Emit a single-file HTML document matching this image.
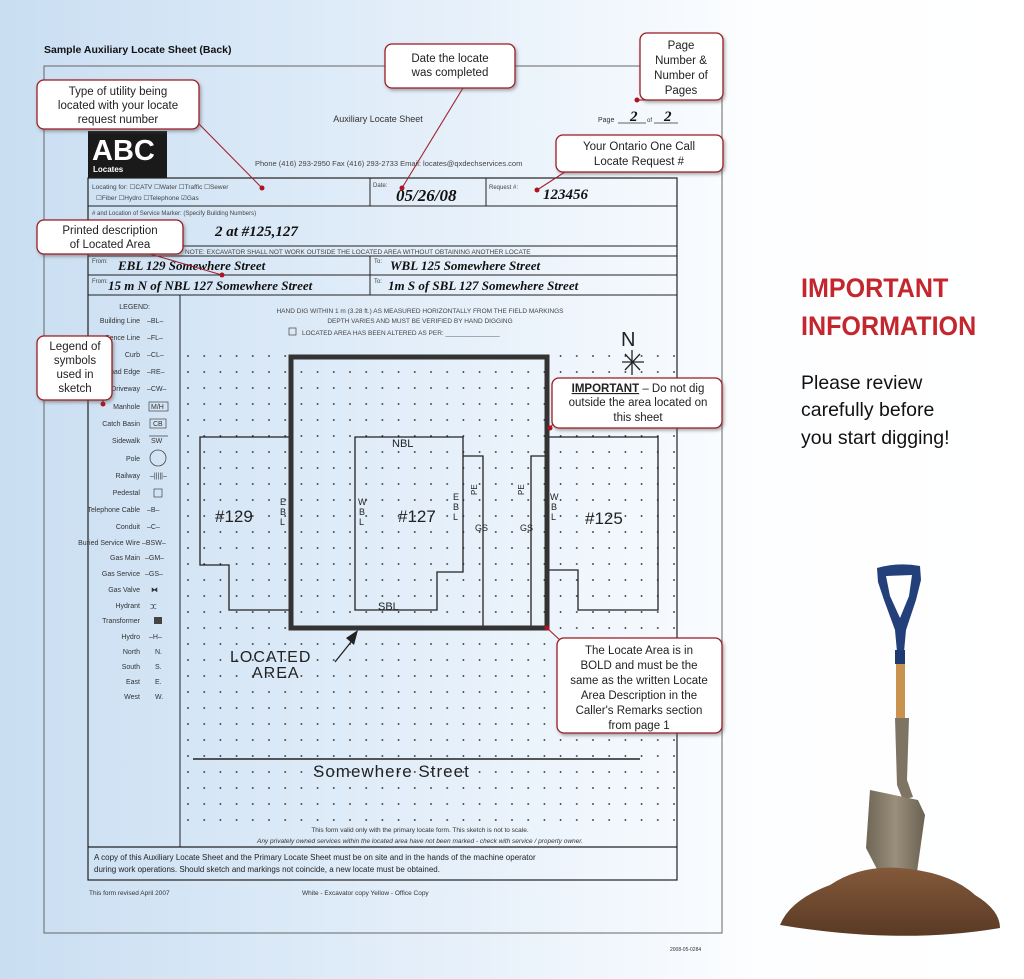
<!DOCTYPE html>
<html><head><meta charset="utf-8"><style>
body{margin:0;width:1024px;height:979px;overflow:hidden;background:linear-gradient(90deg,#c9def2 0%,#e6f0fa 45%,#fdfeff 75%,#fff 100%);font-family:"Liberation Sans",sans-serif;}
svg{position:absolute;left:0;top:0}
.hw{font-family:"Liberation Serif",serif;font-style:italic;font-weight:bold;fill:#111}
.sk{font-family:"Liberation Sans",sans-serif;fill:#222}
.cl{fill:#fff;stroke:#9b1b22;stroke-width:1.3}
.ct{font-size:11.5px;fill:#222;text-anchor:middle}
.lg{font-size:7px;fill:#333;text-anchor:end}
.ls{font-size:7px;fill:#333}
</style></head><body>
<svg width="1024" height="979" viewBox="0 0 1024 979">
<defs>
<pattern id="dots" x="187" y="355" width="16.2" height="16" patternUnits="userSpaceOnUse"><circle cx="1" cy="1" r="0.9" fill="#222"/></pattern>
<filter id="sh" x="-10%" y="-10%" width="130%" height="140%"><feDropShadow dx="1.5" dy="2" stdDeviation="1.5" flood-color="#555" flood-opacity="0.5"/></filter>
<linearGradient id="dirt" x1="0" y1="0" x2="0" y2="1"><stop offset="0" stop-color="#83593a"/><stop offset="1" stop-color="#5a3a24"/></linearGradient>
<linearGradient id="blade" x1="0" y1="0" x2="1" y2="0"><stop offset="0" stop-color="#6f6656"/><stop offset=".5" stop-color="#9a8f7b"/><stop offset="1" stop-color="#6a6152"/></linearGradient>
</defs>
<text x="44" y="53" font-size="10.5" font-weight="bold" fill="#111">Sample Auxiliary Locate Sheet (Back)</text>
<rect x="44" y="66" width="678" height="867" fill="none" stroke="#666" stroke-width="1"/>
<text x="378" y="122" font-size="9" fill="#333" text-anchor="middle">Auxiliary Locate Sheet</text>
<text x="598" y="122" font-size="7" fill="#333">Page</text>
<line x1="618" y1="123" x2="646" y2="123" stroke="#333" stroke-width="0.7"/><line x1="654" y1="123" x2="678" y2="123" stroke="#333" stroke-width="0.7"/>
<text x="630" y="121" class="hw" font-size="15">2</text><text x="647" y="122" font-size="6" fill="#333">of</text><text x="664" y="121" class="hw" font-size="15">2</text>
<rect x="88" y="131" width="79" height="47" fill="#1a1a1a"/>
<text x="92" y="160" font-size="29" font-weight="bold" fill="#fff">ABC</text>
<text x="93" y="172" font-size="8" font-weight="bold" fill="#fff">Locates</text>
<text x="255" y="166" font-size="7.5" fill="#444">Phone (416) 293-2950  Fax (416) 293-2733  Email: locates@qxdechservices.com</text>
<rect x="88" y="178" width="589" height="702" fill="none" stroke="#222" stroke-width="1.2"/>
<line x1="88" y1="206" x2="677" y2="206" stroke="#222"/>
<line x1="370" y1="178" x2="370" y2="206" stroke="#222"/><line x1="486" y1="178" x2="486" y2="206" stroke="#222"/>
<text x="92" y="189" font-size="6.5" fill="#444">Locating for: ☐CATV    ☐Water       ☐Traffic   ☐Sewer</text>
<text x="96" y="200" font-size="6.5" fill="#444">☐Fiber   ☐Hydro  ☐Telephone ☑Gas</text>
<text x="373" y="187" font-size="6" fill="#444">Date:</text><text x="396" y="201" class="hw" font-size="17">05/26/08</text>
<text x="489" y="189" font-size="6" fill="#444">Request #:</text><text x="543" y="199" class="hw" font-size="15">123456</text>
<text x="92" y="215" font-size="6" fill="#444"># and Location of Service Marker: (Specify Building Numbers)</text>
<text x="215" y="236" class="hw" font-size="15">2 at #125,127</text>
<line x1="88" y1="246" x2="677" y2="246" stroke="#222"/><line x1="88" y1="256" x2="677" y2="256" stroke="#222"/>
<text x="185" y="254" font-size="6.5" fill="#444">NOTE: EXCAVATOR SHALL NOT WORK OUTSIDE THE LOCATED AREA WITHOUT OBTAINING ANOTHER LOCATE</text>
<line x1="88" y1="275" x2="677" y2="275" stroke="#222"/><line x1="88" y1="295" x2="677" y2="295" stroke="#222"/>
<line x1="370" y1="256" x2="370" y2="295" stroke="#222"/>
<text x="92" y="263" font-size="6" fill="#444">From:</text><text x="118" y="270" class="hw" font-size="13">EBL 129 Somewhere Street</text>
<text x="374" y="263" font-size="6" fill="#444">To:</text><text x="390" y="270" class="hw" font-size="13">WBL 125 Somewhere Street</text>
<text x="92" y="283" font-size="6" fill="#444">From:</text><text x="108" y="290" class="hw" font-size="13">15 m N of NBL 127 Somewhere Street</text>
<text x="374" y="283" font-size="6" fill="#444">To:</text><text x="388" y="290" class="hw" font-size="13">1m S of SBL 127 Somewhere Street</text>
<line x1="180" y1="295" x2="180" y2="847" stroke="#222"/>
<line x1="88" y1="847" x2="677" y2="847" stroke="#222" stroke-width="1.2"/>
<text x="420" y="313" font-size="6.5" fill="#444" text-anchor="middle">HAND DIG WITHIN 1 m (3.28 ft.) AS MEASURED HORIZONTALLY FROM THE FIELD MARKINGS</text>
<text x="420" y="323" font-size="6.5" fill="#444" text-anchor="middle">DEPTH VARIES AND MUST BE VERIFIED BY HAND DIGGING</text>
<rect x="289" y="328" width="7" height="7" fill="none" stroke="#444" stroke-width="0.7"/>
<text x="302" y="335" font-size="6.5" fill="#444">LOCATED AREA HAS BEEN ALTERED AS PER: _______________</text>
<text x="150" y="309" class="lg">LEGEND:</text>
<g>
<text x="140" y="323" class="lg">Building Line</text><text x="147" y="323" class="ls">–BL–</text>
<text x="140" y="340" class="lg">Fence Line</text><text x="147" y="340" class="ls">–FL–</text>
<text x="140" y="357" class="lg">Curb</text><text x="147" y="357" class="ls">–CL–</text>
<text x="140" y="374" class="lg">Road Edge</text><text x="147" y="374" class="ls">–RE–</text>
<text x="140" y="391" class="lg">Driveway</text><text x="147" y="391" class="ls">–CW–</text>
<text x="140" y="409" class="lg">Manhole</text><rect x="149" y="402" width="19" height="9" fill="none" stroke="#444" stroke-width=".7"/><text x="151" y="409" class="ls">M/H</text>
<text x="140" y="426" class="lg">Catch Basin</text><rect x="150" y="419" width="16" height="9" fill="none" stroke="#444" stroke-width=".7"/><text x="153" y="426" class="ls">CB</text>
<text x="140" y="443" class="lg">Sidewalk</text><text x="151" y="443" class="ls">SW</text><line x1="149" y1="436" x2="168" y2="436" stroke="#444" stroke-width=".7"/>
<text x="140" y="461" class="lg">Pole</text><circle cx="158" cy="458" r="8" fill="none" stroke="#444" stroke-width=".8"/>
<text x="140" y="478" class="lg">Railway</text><text x="150" y="478" class="ls">–|||||–</text>
<text x="140" y="495" class="lg">Pedestal</text><rect x="154" y="489" width="8" height="8" fill="none" stroke="#444" stroke-width=".7"/>
<text x="140" y="512" class="lg">Telephone Cable</text><text x="147" y="512" class="ls">–B–</text>
<text x="140" y="529" class="lg">Conduit</text><text x="147" y="529" class="ls">–C–</text>
<text x="140" y="545" class="lg" font-size="6">Buried Service Wire</text><text x="142" y="545" class="ls">–BSW–</text>
<text x="140" y="560" class="lg">Gas Main</text><text x="145" y="560" class="ls">–GM–</text>
<text x="140" y="576" class="lg">Gas Service</text><text x="145" y="576" class="ls">–GS–</text>
<text x="140" y="592" class="lg">Gas Valve</text><text x="151" y="592" class="ls">⧓</text>
<text x="140" y="608" class="lg">Hydrant</text><text x="150" y="609" class="ls" font-size="10">ⵋ</text>
<text x="140" y="623" class="lg">Transformer</text><rect x="154" y="617" width="8" height="7" fill="#444"/>
<text x="140" y="639" class="lg">Hydro</text><text x="149" y="639" class="ls">–H–</text>
<text x="140" y="654" class="lg">North</text><text x="155" y="654" class="ls">N.</text>
<text x="140" y="669" class="lg">South</text><text x="155" y="669" class="ls">S.</text>
<text x="140" y="684" class="lg">East</text><text x="155" y="684" class="ls">E.</text>
<text x="140" y="699" class="lg">West</text><text x="155" y="699" class="ls">W.</text>
</g>
<rect x="182" y="352" width="494" height="482" fill="url(#dots)"/>
<g fill="none" stroke="#222" stroke-width="1.3">
<polyline points="291,437 200,437 200,565 229,565 229,610 291,610"/>
<polyline points="463,456 463,437 355,437 355,610 437,610 437,572 463,572 463,456"/>
<polyline points="463,456 483,456 483,628"/>
<polyline points="547,456 531,456 531,628"/>
<polyline points="547,437 658,437 658,610 578,610 578,570 547,570"/>
<line x1="193" y1="759" x2="640" y2="759" stroke-width="1.6"/>
<line x1="632" y1="350" x2="632" y2="375"/><line x1="622" y1="362" x2="644" y2="362"/><line x1="625" y1="354" x2="640" y2="370"/><line x1="640" y1="354" x2="625" y2="370"/>
<line x1="335" y1="662" x2="355" y2="637"/>
</g>
<polygon points="358,630 346,638 354,645" fill="#222"/>
<rect x="291" y="357" width="256" height="271" fill="none" stroke="#333" stroke-width="5"/>
<g class="sk" font-size="11">
<text x="392" y="447">NBL</text><text x="378" y="610">SBL</text>
<text x="215" y="522" font-size="17">#129</text><text x="398" y="522" font-size="17">#127</text><text x="585" y="524" font-size="17">#125</text>
<text x="280" y="505" font-size="9">E</text><text x="280" y="515" font-size="9">B</text><text x="280" y="525" font-size="9">L</text>
<text x="358" y="505" font-size="9">W</text><text x="359" y="515" font-size="9">B</text><text x="359" y="525" font-size="9">L</text>
<text x="453" y="500" font-size="9">E</text><text x="453" y="510" font-size="9">B</text><text x="453" y="520" font-size="9">L</text>
<text x="550" y="500" font-size="9">W</text><text x="551" y="510" font-size="9">B</text><text x="551" y="520" font-size="9">L</text>
<text x="472" y="490" font-size="8" transform="rotate(-90 477 490)">PE</text>
<text x="519" y="490" font-size="8" transform="rotate(-90 524 490)">PE</text>
<text x="475" y="531" font-size="9">GS</text><text x="520" y="531" font-size="9">GS</text>
<text x="230" y="662" font-size="16" letter-spacing="1">LOCATED</text><text x="252" y="678" font-size="16" letter-spacing="1">AREA</text>
<text x="313" y="777" font-size="17" letter-spacing="1">Somewhere Street</text>
<text x="621" y="346" font-size="20" font-weight="normal">N</text>
</g>
<text x="420" y="832" font-size="6.5" fill="#333" text-anchor="middle">This form valid only with the primary locate form. This sketch is not to scale.</text>
<text x="420" y="843" font-size="6.5" fill="#333" text-anchor="middle" font-style="italic">Any privately owned services within the located area have not been marked - check with service / property owner.</text>
<text x="94" y="860" font-size="8" fill="#222">A copy of this Auxiliary Locate Sheet and the Primary Locate Sheet  must be on site and in the hands of the machine operator</text>
<text x="94" y="872" font-size="8" fill="#222">during work operations. Should sketch and markings not coincide, a new locate must be obtained.</text>
<text x="89" y="895" font-size="6.5" fill="#333">This form revised April 2007</text>
<text x="302" y="895" font-size="6.5" fill="#333">White - Excavator copy        Yellow - Office Copy</text>
<text x="670" y="951" font-size="5" fill="#333">2008-05-0284</text>
<g stroke="#a3222a" stroke-width="1.1" fill="none">
<line x1="199" y1="124" x2="262" y2="188"/><line x1="463" y1="88" x2="402" y2="188"/>
<line x1="652" y1="100" x2="637" y2="100"/><line x1="565" y1="172" x2="537" y2="190"/>
<line x1="150" y1="254" x2="222" y2="275"/><line x1="103" y1="400" x2="103" y2="404"/>
<line x1="556" y1="420" x2="550" y2="428"/><line x1="562" y1="642" x2="547" y2="628"/>
</g>
<g fill="#b0131e"><circle cx="262" cy="188" r="2.5"/><circle cx="402" cy="188" r="2.5"/><circle cx="637" cy="100" r="2.5"/><circle cx="537" cy="190" r="2.5"/><circle cx="222" cy="275" r="2.5"/><circle cx="103" cy="404" r="2.5"/><circle cx="550" cy="428" r="2.5"/><circle cx="547" cy="628" r="2.5"/></g>
<g filter="url(#sh)">
<rect class="cl" x="37" y="80" width="162" height="49" rx="7"/>
<rect class="cl" x="385" y="44" width="130" height="44" rx="7"/>
<rect class="cl" x="640" y="33" width="83" height="67" rx="7"/>
<rect class="cl" x="556" y="135" width="167" height="37" rx="7"/>
<rect class="cl" x="37" y="220" width="146" height="34" rx="7"/>
<rect class="cl" x="37" y="336" width="75" height="64" rx="7"/>
<rect class="cl" x="552" y="378" width="170" height="50" rx="7"/>
<rect class="cl" x="557" y="638" width="165" height="95" rx="7"/>
</g>
<text class="ct" x="118" y="95">Type of utility being</text><text class="ct" x="118" y="109">located with your locate</text><text class="ct" x="118" y="123">request number</text>
<text class="ct" x="450" y="62">Date the locate</text><text class="ct" x="450" y="76">was completed</text>
<text class="ct" x="681" y="49">Page</text><text class="ct" x="681" y="64">Number &amp;</text><text class="ct" x="681" y="79">Number of</text><text class="ct" x="681" y="94">Pages</text>
<text class="ct" x="639" y="150">Your Ontario One Call</text><text class="ct" x="639" y="165">Locate Request #</text>
<text class="ct" x="110" y="234">Printed description</text><text class="ct" x="110" y="248">of Located Area</text>
<text class="ct" x="75" y="350">Legend of</text><text class="ct" x="75" y="364">symbols</text><text class="ct" x="75" y="378">used in</text><text class="ct" x="75" y="392">sketch</text>
<text class="ct" x="638" y="392"><tspan font-weight="bold" text-decoration="underline">IMPORTANT</tspan> – Do not dig</text><text class="ct" x="638" y="406">outside the area located on</text><text class="ct" x="638" y="421">this sheet</text>
<text class="ct" x="639" y="654">The Locate Area is in</text><text class="ct" x="639" y="669">BOLD and must be the</text><text class="ct" x="639" y="684">same as the written Locate</text><text class="ct" x="639" y="699">Area Description in the</text><text class="ct" x="639" y="714">Caller's Remarks section</text><text class="ct" x="639" y="729">from page 1</text>
<text x="801" y="297" font-size="27" font-weight="bold" fill="#c4262e" transform="scale(0.93 1)" style="transform-origin:801px 0">IMPORTANT</text>
<text x="801" y="335" font-size="27" font-weight="bold" fill="#c4262e" transform="scale(0.93 1)" style="transform-origin:801px 0">INFORMATION</text>
<text x="801" y="389" font-size="19.5" fill="#111">Please review</text>
<text x="801" y="416" font-size="19.5" fill="#111">carefully before</text>
<text x="801" y="444" font-size="19.5" fill="#111">you start digging!</text>
<!-- shovel -->
<path d="M877 568 Q898 562 920 566 L921 580 L916 600 L906 630 L904 652 L897 652 L895 630 L884 600 L878 582 Z M886 576 L912 575 L909 596 L900 618 L890 596 Z" fill="#23407a" fill-rule="evenodd"/>
<rect x="895" y="650" width="10" height="14" fill="#1f3a70"/>
<rect x="896" y="664" width="9" height="55" fill="#c9934f"/>
<path d="M895 718 L909 718 L907 780 L913 797 L903 800 L897 785 Z" fill="#7d7464"/>
<path d="M870 790 L918 800 L925 815 L917 872 L880 875 L866 848 Z" fill="url(#blade)"/>
<path d="M780 925 Q790 900 830 885 Q860 865 900 868 Q950 872 975 895 Q1000 910 1000 928 Q900 945 780 925 Z" fill="url(#dirt)"/>
</svg>
</body></html>
